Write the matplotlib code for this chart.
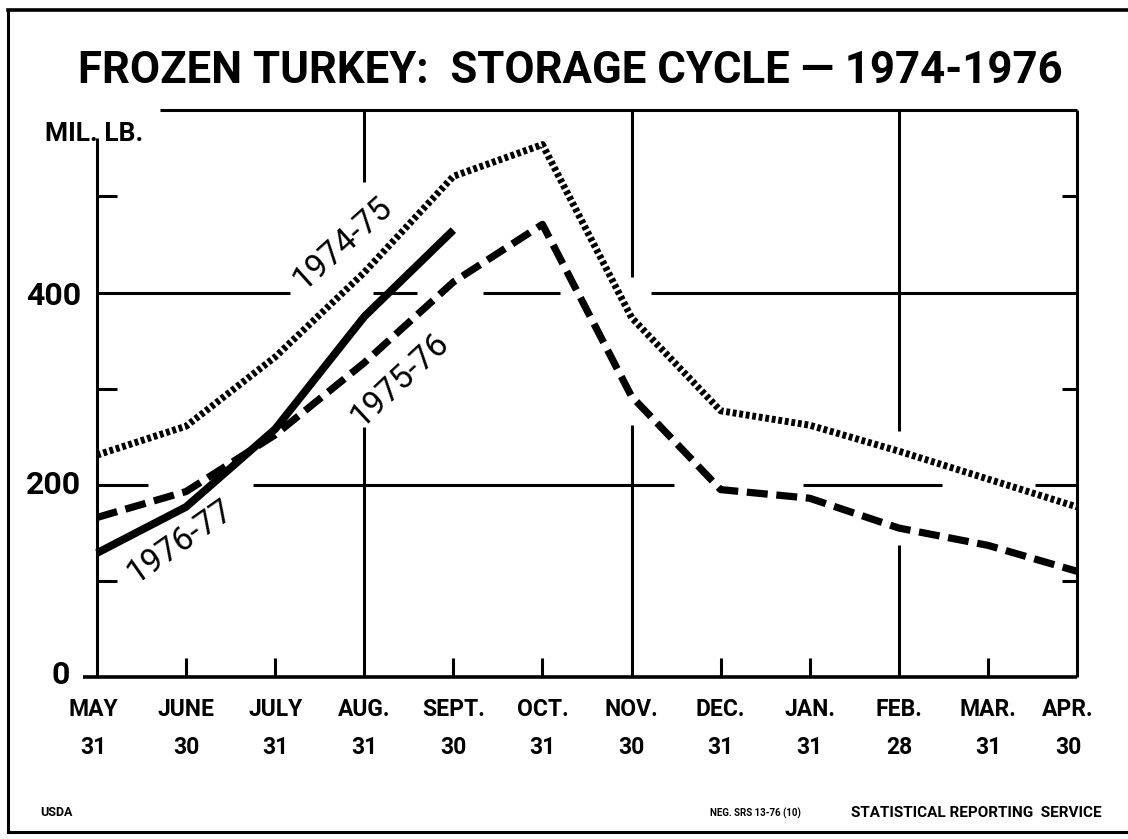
import matplotlib

matplotlib.use("Agg")
import matplotlib.pyplot as plt

# ── Data (million lb, end of month) ──────────────────────────────────────────
MONTHS = ["MAY", "JUNE", "JULY", "AUG.", "SEPT.", "OCT.",
          "NOV.", "DEC.", "JAN.", "FEB.", "MAR.", "APR."]
DAYS = ["31", "30", "31", "31", "30", "31", "30", "31", "31", "28", "31", "30"]

STOCKS_1974_75 = [231, 261, 333, 421, 521, 554, 374, 277, 262, 235, 206, 177]
STOCKS_1975_76 = [166, 193, 252, 327, 411, 471, 292, 195, 186, 155, 137, 110]
STOCKS_1976_77 = [129, 177, 258, 375, 465]

FONT = ["Roboto", "DejaVu Sans"]
INK = "black"

W, H = 1128, 839
fig = plt.figure(figsize=(W / 100, H / 100), dpi=100)
fig.patch.set_facecolor("white")

# Overlay in pixel units for the page furniture (border, title, footer).
page = fig.add_axes([0, 0, 1, 1])
page.set_xlim(0, W)
page.set_ylim(H, 0)
page.axis("off")

# Plot area: x = month index, y = mil. lb.
ax = fig.add_axes([97 / W, (H - 677) / H, 980 / W, 567 / H])
ax.set_xlim(0, 11)
ax.set_ylim(0, 590)
ax.axis("off")

x_all = list(range(len(MONTHS)))


def seg(x0, x1, y0, y1, lw=2.2):
    ax.plot([x0, x1], [y0, y1], color=INK, lw=lw, solid_capstyle="butt",
            clip_on=False, zorder=1)


# Frame (hand drawn: top stops short of the axis label, base runs past 0)
seg(0.71, 11, 590, 590)
seg(0, 0, 0, 561)
seg(-0.16, 11, 0, 0, lw=2.6)
seg(11, 11, 0, 590)

# Broken grid lines, gaps where curves/labels pass
for a, b in [(0, 2.17), (3.10, 3.59), (4.33, 5.20), (6.22, 11)]:
    seg(a, b, 400, 400)
for a, b in [(0, 0.57), (1.75, 6.48), (7.92, 9.49), (10.53, 11)]:
    seg(a, b, 200, 200)
for xg, spans in [(3, [(515, 590), (0, 260)]),
                  (6, [(416, 590), (0, 262)]),
                  (9, [(256, 590), (0, 137)])]:
    for a, b in spans:
        seg(xg, xg, a, b)

# Ticks
for v in (100, 300, 500):
    seg(0, 0.22, v, v)
    seg(11 - 0.17, 11, v, v)
for i in x_all[1:-1]:
    if i not in (3, 6, 9):
        seg(i, i, 0, 20)

# Series
ax.plot(x_all, STOCKS_1974_75, color=INK, lw=5.0, ls=(0, (0.55, 0.4)),
        dash_capstyle="butt", solid_joinstyle="miter", zorder=3, clip_on=False)
ax.plot(x_all, STOCKS_1975_76, color=INK, lw=5.2, ls=(0, (2.9, 1.2)),
        dash_capstyle="butt", zorder=3, clip_on=False)
ax.plot(x_all[:len(STOCKS_1976_77)], STOCKS_1976_77, color=INK, lw=5.6,
        solid_capstyle="butt", zorder=4, clip_on=False)

# Series labels written along the curves
lab = dict(family=FONT, fontsize=24, color=INK, ha="center", va="center",
           rotation_mode="anchor", zorder=5)
ax.text(2.76, 451, "1974-75", rotation=42, **lab)
ax.text(3.40, 309, "1975-76", rotation=43, **lab)
ax.text(0.93, 141, "1976-77", rotation=35, **lab)

# Y labels
yl = dict(family=FONT, fontsize=23, fontweight="bold", color=INK,
          ha="right", va="center")
page.text(70, 675, "0", **yl)
page.text(81, 485, "200", **yl)
page.text(81, 296, "400", **yl)
page.text(45, 134, "MIL. LB.", family=FONT, fontsize=19, fontweight="bold",
          color=INK, ha="left", va="center")

# Month labels
for i, (m, d) in enumerate(zip(MONTHS, DAYS)):
    px = 97 + i * 89.1
    if i == 0:
        px -= 4
    if i == 11:
        px -= 9
    page.text(px, 709, m, family=FONT, fontsize=16.5, fontweight="bold",
              color=INK, ha="center", va="center")
    page.text(px, 748, d, family=FONT, fontsize=16.5, fontweight="bold",
              color=INK, ha="center", va="center")

# Title
page.text(570, 71, "FROZEN TURKEY:  STORAGE CYCLE \u2014 1974-1976",
          family=FONT, fontsize=31.5, fontweight="bold", color=INK,
          ha="center", va="center")

# Footer
ft = dict(family=FONT, fontweight="bold", color=INK, va="center")
page.text(40, 812, "USDA", ha="left", fontsize=9, **ft)
page.text(710, 813, "NEG. SRS 13-76 (10)", ha="left", fontsize=7, **ft)
page.text(1102, 813, "STATISTICAL REPORTING  SERVICE", ha="right",
          fontsize=11, **ft)

# Outer border
page.plot([8, 8], [10, 832], color=INK, lw=2.2)
page.plot([8, W], [10, 10], color=INK, lw=2.6)
page.plot([8, W], [832, 832], color=INK, lw=2.2)

fig.savefig("out.png", dpi=100, facecolor="white")
